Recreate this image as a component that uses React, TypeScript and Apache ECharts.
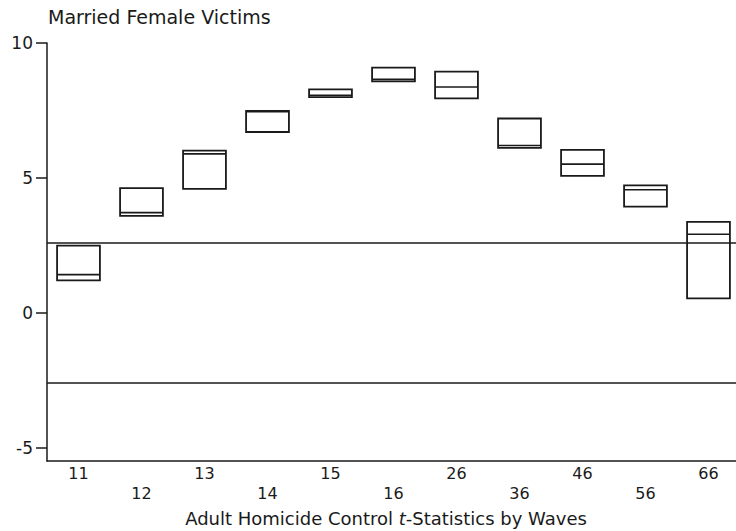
import React, { useEffect, useRef } from "react";
import * as echarts from "echarts";

const categories = ["11", "12", "13", "14", "15", "16", "26", "36", "46", "56", "66"];
const lows = [1.2, 3.59, 4.59, 6.7, 7.99, 8.58, 7.95, 6.11, 5.07, 3.93, 0.53];
const medians = [1.41, 3.71, 5.89, 7.45, 8.06, 8.65, 8.37, 6.2, 5.51, 4.56, 2.91];
const highs = [2.49, 4.62, 6.01, 7.48, 8.28, 9.09, 8.94, 7.2, 6.04, 4.72, 3.37];
const criticalValues = [2.58, -2.58];
const yTicks = [-5, 0, 5, 10];

const FONT = "'DejaVu Sans', 'Liberation Sans', Arial, sans-serif";
const INK = "#1a1a1a";

export default function App() {
  const ref = useRef<HTMLDivElement>(null);
  useEffect(() => {
    document.body.style.margin = "0";
    const chart = echarts.init(ref.current!, null, { renderer: "svg" });
    const boxData = categories.map((_, i) => [i, lows[i], medians[i], highs[i]]);
    chart.setOption({
      animation: false,
      backgroundColor: "#fff",
      title: {
        text: "Married Female Victims",
        left: 43,
        top: 2,
        textStyle: { fontFamily: FONT, fontSize: 19, fontWeight: "normal", color: INK },
      },
      grid: { left: 47, top: 43, width: 693, height: 418, outerBoundsMode: "none" },
      xAxis: {
        type: "category",
        data: categories,
        boundaryGap: true,
        axisLine: { onZero: false, lineStyle: { color: INK, width: 1.5 } },
        axisTick: { show: false },
        splitLine: { show: false },
        axisLabel: {
          interval: 0,
          margin: 2,
          fontFamily: FONT,
          fontSize: 16,
          color: INK,
          lineHeight: 20,
          formatter: (v: string, i: number) => (i % 2 === 1 ? "\n" + v : v),
        },
        name: "{n|Adult Homicide Control }{i|t}{n|-Statistics by Waves}",
        nameLocation: "middle",
        nameGap: 48,
        nameTextStyle: {
          padding: [0, 15, 0, 0],
          rich: {
            n: { fontFamily: FONT, fontSize: 18, color: INK },
            i: { fontFamily: FONT, fontSize: 18, color: INK, fontStyle: "italic" },
          },
        },
      },
      yAxis: {
        type: "value",
        min: -5.5,
        max: 10,
        axisLine: { show: true, lineStyle: { color: INK, width: 1.5 } },
        axisTick: { show: true, length: 11, customValues: yTicks, lineStyle: { color: INK, width: 1.5 } },
        axisLabel: {
          customValues: yTicks,
          margin: 14,
          fontFamily: FONT,
          fontSize: 17,
          color: INK,
        },
        splitLine: { show: false },
      },
      series: [
        {
          type: "custom",
          data: boxData,
          encode: { x: 0, y: [1, 2, 3] },
          renderItem: (params: any, api: any) => {
            const idx = api.value(0);
            const lo = api.value(1);
            const med = api.value(2);
            const hi = api.value(3);
            const pTop = api.coord([idx, hi]);
            const pBot = api.coord([idx, lo]);
            const pMed = api.coord([idx, med]);
            const w = api.size([1, 0])[0] * 0.68;
            return {
              type: "group",
              children: [
                {
                  type: "rect",
                  shape: { x: pTop[0] - w / 2, y: pTop[1], width: w, height: pBot[1] - pTop[1] },
                  style: { fill: "none", stroke: INK, lineWidth: 1.8 },
                },
                {
                  type: "line",
                  shape: { x1: pTop[0] - w / 2, y1: pMed[1], x2: pTop[0] + w / 2, y2: pMed[1] },
                  style: { stroke: INK, lineWidth: 1.6 },
                },
              ],
            };
          },
        },
        {
          type: "line",
          data: [],
          markLine: {
            silent: true,
            symbol: "none",
            label: { show: false },
            lineStyle: { color: INK, width: 1.5, type: "solid" },
            data: criticalValues.map((v) => ({ yAxis: v })),
          },
        },
      ],
    });
    return () => chart.dispose();
  }, []);
  return <div ref={ref} style={{ width: 736, height: 531 }} />;
}
